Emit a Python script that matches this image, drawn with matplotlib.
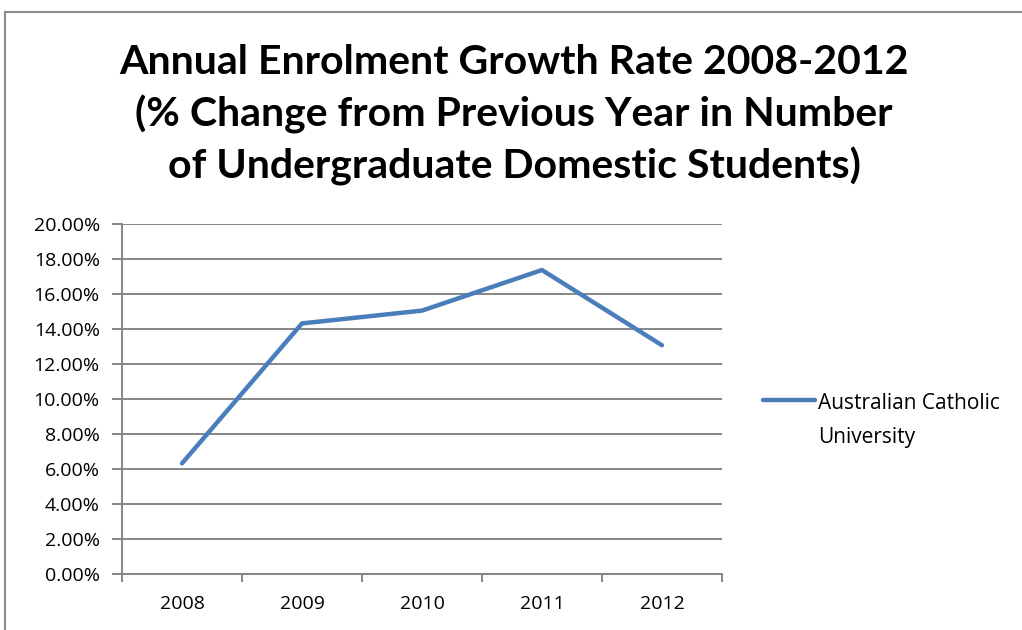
import matplotlib.pyplot as plt
from matplotlib.patches import Rectangle
from matplotlib.ticker import FixedLocator, FuncFormatter

years = ['2008', '2009', '2010', '2011', '2012']
growth = [6.32, 14.32, 15.05, 17.37, 13.07]
series_name = 'Australian Catholic\nUniversity'
title = ('Annual Enrolment Growth Rate 2008-2012\n'
         '(% Change from Previous Year in Number\n'
         'of Undergraduate Domestic Students)')

W, H = 1022, 630
fig = plt.figure(figsize=(W / 100, H / 100), dpi=100)

# outer chart border (cut off on the right and bottom like the screenshot)
fig.patches.append(Rectangle((5 / W, -0.05), 1.2, 1.05 - 12 / H,
                             transform=fig.transFigure, fill=False,
                             edgecolor='#8c8c8c', lw=1.5))

ax = fig.add_axes([122 / W, 1 - 574 / H, 600 / W, 350 / H])

grid_c = '#868686'
xs = [i + 0.5 for i in range(len(years))]
ax.plot(xs, growth, color='#4a7ebb', lw=3.2, solid_capstyle='round',
        label=series_name)

ax.set_xlim(0, len(years))
ax.set_ylim(0, 20)
ax.set_yticks(range(0, 21, 2))
ax.yaxis.set_major_formatter(FuncFormatter(lambda v, p: f'{v:.2f}%'))
ax.set_xticks(range(len(years) + 1))
ax.set_xticklabels([])
ax.xaxis.set_minor_locator(FixedLocator(xs))
ax.set_xticks(xs, minor=True)
ax.set_xticklabels(years, minor=True)

ax.grid(axis='y', color=grid_c, lw=1.4)
ax.set_axisbelow(True)
for s in ['top', 'right']:
    ax.spines[s].set_visible(False)
for s in ['left', 'bottom']:
    ax.spines[s].set_color(grid_c)
    ax.spines[s].set_linewidth(1.4)

ax.tick_params(axis='y', which='major', direction='out', length=7,
               color=grid_c, width=1.4, labelsize=14, pad=9)
ax.tick_params(axis='x', which='major', direction='out', length=6,
               color=grid_c, width=1.4)
ax.tick_params(axis='x', which='minor', length=0, labelsize=14, pad=15)
for lab in ax.get_yticklabels() + ax.get_xticklabels(minor=True):
    lab.set_family(['Open Sans', 'Lato'])

fig.text(514 / W, 1 - 115 / H, title, ha='center', va='center',
         fontsize=29.5, fontweight='bold',
         family=['Liberation Sans Narrow', 'Lato'], linespacing=1.41)

leg = ax.legend(loc='upper left', bbox_to_anchor=(744 / W, 1 - 374 / H),
                bbox_transform=fig.transFigure, frameon=False,
                handlelength=2.5, handletextpad=0.15,
                prop={'family': ['Open Sans', 'Lato'], 'size': 15})
for t in leg.get_texts():
    t.set_linespacing(1.85)
for col in leg._legend_handle_box.get_children():
    for row in col.get_children():
        row.align = 'top'

fig.savefig('out.png', dpi=100)
